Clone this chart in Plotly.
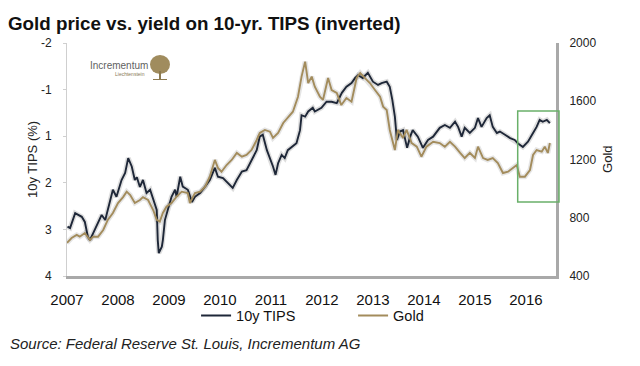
import plotly.graph_objects as go

# ---------------- data ----------------
tips_dates = [2007.01, 2007.06, 2007.16, 2007.22, 2007.29, 2007.35, 2007.41, 2007.45, 2007.51, 2007.58,
              2007.68, 2007.75, 2007.84, 2007.90, 2007.97, 2008.07, 2008.14, 2008.20, 2008.27, 2008.33,
              2008.37, 2008.43, 2008.49, 2008.56, 2008.63, 2008.69, 2008.76, 2008.78, 2008.80, 2008.86,
              2008.88, 2008.92, 2008.98, 2009.05, 2009.12, 2009.15, 2009.22, 2009.27, 2009.37, 2009.45,
              2009.51, 2009.61, 2009.71, 2009.80, 2009.90, 2009.96, 2010.06, 2010.16, 2010.25, 2010.33,
              2010.43, 2010.52, 2010.62, 2010.72, 2010.78, 2010.84, 2010.92, 2010.98, 2011.04, 2011.09,
              2011.14, 2011.21, 2011.27, 2011.33, 2011.41, 2011.50, 2011.57, 2011.60, 2011.67, 2011.73,
              2011.82, 2011.86, 2011.99, 2012.09, 2012.19, 2012.29, 2012.39, 2012.48, 2012.58, 2012.65,
              2012.71, 2012.80, 2012.90, 2013.00, 2013.10, 2013.17, 2013.27, 2013.33, 2013.38, 2013.43,
              2013.47, 2013.53, 2013.59, 2013.67, 2013.73, 2013.78, 2013.88, 2013.98, 2014.08, 2014.18,
              2014.31, 2014.41, 2014.51, 2014.61, 2014.67, 2014.74, 2014.80, 2014.90, 2015.00, 2015.06,
              2015.13, 2015.23, 2015.29, 2015.35, 2015.43, 2015.49, 2015.59, 2015.69, 2015.78, 2015.84,
              2015.94, 2016.04, 2016.14, 2016.21, 2016.27, 2016.33, 2016.41, 2016.47]
tips_values = [2.94, 2.97, 2.65, 2.69, 2.73, 2.84, 3.16, 3.23, 3.08, 2.91,
               2.69, 2.80, 2.43, 2.15, 2.30, 1.94, 1.79, 1.47, 1.65, 1.94,
               1.88, 2.09, 1.94, 2.22, 2.15, 2.37, 2.58, 3.23, 3.51, 3.37,
               3.23, 2.80, 2.58, 2.30, 2.15, 2.30, 1.87, 2.08, 2.15, 2.41,
               2.30, 2.22, 2.08, 1.94, 1.68, 1.87, 1.90, 2.00, 2.11, 1.94,
               1.76, 1.73, 1.51, 1.30, 1.01, 0.97, 1.30, 1.47, 1.65, 1.83,
               1.58, 1.40, 1.47, 1.30, 1.23, 1.15, 0.87, 0.55, 0.58, 0.47,
               0.39, 0.47, 0.39, 0.26, 0.26, 0.29, 0.07, -0.06, -0.14, -0.25,
               -0.31, -0.25, -0.36, -0.17, -0.10, -0.14, -0.17, -0.06, 0.22, 0.58,
               1.08, 0.90, 0.87, 1.25, 1.01, 0.87, 1.01, 1.25, 1.08, 1.01,
               0.82, 0.76, 0.82, 0.69, 0.80, 1.01, 0.82, 0.93, 0.82, 0.61,
               0.80, 0.61, 0.55, 0.80, 0.93, 0.90, 0.97, 1.04, 1.08, 1.15,
               1.23, 1.12, 0.93, 0.80, 0.65, 0.69, 0.65, 0.72]

gold_dates = [2007.00, 2007.09, 2007.19, 2007.25, 2007.35, 2007.45, 2007.51, 2007.61, 2007.71, 2007.80,
              2007.90, 2008.00, 2008.10, 2008.17, 2008.24, 2008.33, 2008.43, 2008.49, 2008.59, 2008.69,
              2008.76, 2008.82, 2008.88, 2008.95, 2009.05, 2009.15, 2009.25, 2009.37, 2009.41, 2009.51,
              2009.61, 2009.71, 2009.80, 2009.90, 2009.96, 2010.03, 2010.13, 2010.23, 2010.33, 2010.43,
              2010.52, 2010.62, 2010.72, 2010.78, 2010.88, 2010.98, 2011.04, 2011.14, 2011.24, 2011.33,
              2011.43, 2011.53, 2011.60, 2011.67, 2011.73, 2011.80, 2011.86, 2011.96, 2012.02, 2012.12,
              2012.19, 2012.29, 2012.38, 2012.48, 2012.58, 2012.68, 2012.75, 2012.84, 2012.94, 2013.04,
              2013.14, 2013.20, 2013.27, 2013.33, 2013.43, 2013.49, 2013.59, 2013.66, 2013.76, 2013.86,
              2013.95, 2014.05, 2014.18, 2014.31, 2014.41, 2014.51, 2014.61, 2014.71, 2014.80, 2014.90,
              2015.00, 2015.06, 2015.16, 2015.25, 2015.35, 2015.45, 2015.55, 2015.65, 2015.75, 2015.82,
              2015.88, 2015.98, 2016.08, 2016.14, 2016.21, 2016.31, 2016.37, 2016.43, 2016.47]
gold_values = [627, 661, 682, 670, 695, 647, 670, 670, 716, 785,
               833, 901, 942, 979, 956, 901, 922, 942, 922, 853,
               785, 773, 833, 876, 901, 945, 979, 970, 901, 970,
               979, 1013, 1082, 1197, 1142, 1116, 1162, 1197, 1245, 1219,
               1231, 1265, 1334, 1382, 1403, 1391, 1348, 1382, 1451, 1485,
               1528, 1631, 1769, 1872, 1725, 1769, 1700, 1631, 1609, 1760,
               1677, 1657, 1574, 1622, 1597, 1760, 1794, 1760, 1725, 1677,
               1631, 1563, 1540, 1403, 1265, 1403, 1348, 1403, 1313, 1288,
               1219, 1288, 1322, 1313, 1288, 1322, 1288, 1245, 1210, 1245,
               1210, 1288, 1210, 1197, 1210, 1176, 1107, 1116, 1142, 1162,
               1082, 1082, 1128, 1231, 1265, 1254, 1288, 1245, 1313]

year_ticks = [2007, 2008, 2009, 2010, 2011, 2012, 2013, 2014, 2015, 2016]
year_labels = ["2007", "2008", "2009", "2010", "2011", "2012", "2013", "2014", "2015", "2016"]
tips_tick_positions = [-1, 0, 1, 2, 3, 4]
tips_tick_labels = ["-2", "-1", "1", "2", "3", "4"]
gold_ticks = [400, 800, 1200, 1600, 2000]

TIPS_COLOR = "#1e2738"
GOLD_COLOR = "#a38c5c"
FONT = "Liberation Sans, Arial, Helvetica, sans-serif"

fig = go.Figure()

# soft shadows under the lines
fig.add_trace(go.Scatter(x=tips_dates, y=tips_values, mode="lines", yaxis="y",
                         line=dict(color="rgba(0,0,0,0.13)", width=5), hoverinfo="skip",
                         showlegend=False))
fig.add_trace(go.Scatter(x=gold_dates, y=gold_values, mode="lines", yaxis="y2",
                         line=dict(color="rgba(0,0,0,0.10)", width=5), hoverinfo="skip",
                         showlegend=False))

fig.add_trace(go.Scatter(x=tips_dates, y=tips_values, mode="lines", name="10y TIPS", yaxis="y",
                         line=dict(color=TIPS_COLOR, width=1.9)))
fig.add_trace(go.Scatter(x=gold_dates, y=gold_values, mode="lines", name="Gold", yaxis="y2",
                         line=dict(color=GOLD_COLOR, width=1.9)))

fig.update_layout(
    width=640, height=366,
    margin=dict(l=67, r=84, t=43, b=90),
    paper_bgcolor="white", plot_bgcolor="white",
    font=dict(family=FONT, color="#111"),
    showlegend=True,
    legend=dict(orientation="h", x=0.585, xanchor="center", y=-0.17, yanchor="middle",
                font=dict(size=14.5, color="#111"), entrywidth=112, bgcolor="rgba(0,0,0,0)",
                itemclick=False),
    xaxis=dict(range=[2007, 2016.59], tickvals=year_ticks, ticktext=year_labels,
               showgrid=False, zeroline=False, showline=True, linecolor="#a9a9a9", linewidth=3,
               ticks="outside", ticklen=8, tickcolor="rgba(0,0,0,0)",
               tickfont=dict(size=15, color="#111")),
    yaxis=dict(range=[4, -1], tickvals=tips_tick_positions, ticktext=tips_tick_labels,
               showgrid=False, zeroline=False, showline=True, linecolor="#cfcfcf", linewidth=1,
               ticks="outside", ticklen=3, tickcolor="#cfcfcf", ticklabelstandoff=9,
               tickfont=dict(size=12, color="#222")),
    yaxis2=dict(range=[400, 2000], tickvals=gold_ticks, overlaying="y", side="right",
                showgrid=False, zeroline=False, showline=True, linecolor="#a9a9a9", linewidth=3,
                ticks="", ticklabelstandoff=8,
                tickfont=dict(size=12, color="#222")),
)

fig.update_layout(title=dict(text="<b>Gold price vs. yield on 10-yr. TIPS (inverted)</b>",
                             x=8 / 640, xanchor="left", xref="container",
                             y=1 - 23 / 366, yanchor="middle", yref="container",
                             font=dict(size=18.8, color="#111", family=FONT)))

annotations = [
    dict(text="10y TIPS (%)", xref="paper", yref="paper", x=(33 - 67) / 489, y=0.498,
         textangle=-90, showarrow=False, font=dict(size=13, color="#222"),
         xanchor="center", yanchor="middle"),
    dict(text="Gold", xref="paper", yref="paper", x=(608 - 67) / 489, y=0.498,
         textangle=-90, showarrow=False, font=dict(size=13, color="#222"),
         xanchor="center", yanchor="middle"),
    dict(text="<i>Source: Federal Reserve St. Louis, Incrementum AG</i>", xref="paper", yref="paper",
         x=(8 - 67) / 489, y=(276 - 343) / 233, xanchor="left", yanchor="middle",
         showarrow=False, font=dict(size=15, color="#222")),
    dict(text="Incrementum", xref="paper", yref="paper", x=(88 - 67) / 489, y=(276 - 65) / 233,
         xanchor="left", yanchor="middle", showarrow=False,
         font=dict(size=10, color="#5f5f5f", family="Liberation Sans Narrow, Arial Narrow, sans-serif")),
    dict(text="Liechtenstein", xref="paper", yref="paper", x=(147 - 67) / 489, y=(276 - 74) / 233,
         xanchor="right", yanchor="middle", showarrow=False,
         font=dict(size=5, color="#8a7a55")),
]
fig.update_layout(annotations=annotations)

shapes = [
    # highlight box
    dict(type="rect", xref="paper", yref="paper",
         x0=(517.7 - 67) / 489, x1=(559 - 67) / 489,
         y0=(276 - 202) / 233, y1=(276 - 111) / 233,
         line=dict(color="#69b069", width=1.5), fillcolor="rgba(0,0,0,0)"),
    # logo tree crown
    dict(type="circle", xref="paper", yref="paper",
         x0=(150 - 67) / 489, x1=(170 - 67) / 489,
         y0=(276 - 74) / 233, y1=(276 - 55) / 233,
         line=dict(width=0), fillcolor="#a08c5e"),
    dict(type="line", xref="paper", yref="paper",
         x0=(160 - 67) / 489, x1=(160 - 67) / 489,
         y0=(276 - 79) / 233, y1=(276 - 71) / 233,
         line=dict(color="#8c7a50", width=2)),
    dict(type="line", xref="paper", yref="paper",
         x0=(153 - 67) / 489, x1=(167 - 67) / 489,
         y0=(276 - 79.5) / 233, y1=(276 - 79.5) / 233,
         line=dict(color="#8c7a50", width=1)),
]
fig.update_layout(shapes=shapes)

fig.write_html("out.html", config={"displayModeBar": False},
               post_script="document.body.style.margin='0';")
